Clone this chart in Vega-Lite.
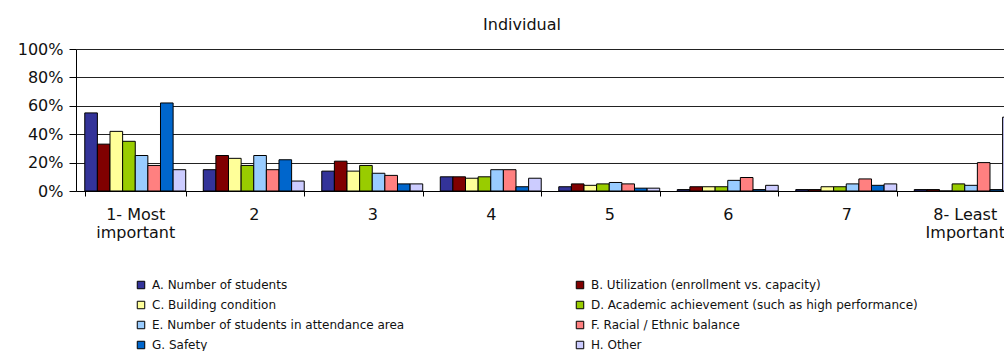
{
  "$schema": "https://vega.github.io/schema/vega-lite/v6.json",
  "width": 928,
  "height": 142,
  "autosize": {"type": "none"},
  "padding": {"left": 76, "top": 49, "right": 0, "bottom": 160},
  "background": "white",
  "title": {
    "text": "Individual",
    "anchor": "middle",
    "dx": -18,
    "offset": 8,
    "font": "DejaVu Sans",
    "fontSize": 16,
    "fontWeight": "normal",
    "color": "#111111"
  },
  "data": {
    "values": [
      {"rank": "1- Most important", "factor": "A. Number of students", "pct": 55},
      {"rank": "1- Most important", "factor": "B. Utilization (enrollment vs. capacity)", "pct": 33},
      {"rank": "1- Most important", "factor": "C. Building condition", "pct": 42},
      {"rank": "1- Most important", "factor": "D. Academic achievement (such as high performance)", "pct": 35},
      {"rank": "1- Most important", "factor": "E. Number of students in attendance area", "pct": 25},
      {"rank": "1- Most important", "factor": "F. Racial / Ethnic balance", "pct": 18},
      {"rank": "1- Most important", "factor": "G. Safety", "pct": 62},
      {"rank": "1- Most important", "factor": "H. Other", "pct": 15},

      {"rank": "2", "factor": "A. Number of students", "pct": 15},
      {"rank": "2", "factor": "B. Utilization (enrollment vs. capacity)", "pct": 25},
      {"rank": "2", "factor": "C. Building condition", "pct": 23},
      {"rank": "2", "factor": "D. Academic achievement (such as high performance)", "pct": 18},
      {"rank": "2", "factor": "E. Number of students in attendance area", "pct": 25},
      {"rank": "2", "factor": "F. Racial / Ethnic balance", "pct": 15},
      {"rank": "2", "factor": "G. Safety", "pct": 22},
      {"rank": "2", "factor": "H. Other", "pct": 7},

      {"rank": "3", "factor": "A. Number of students", "pct": 14},
      {"rank": "3", "factor": "B. Utilization (enrollment vs. capacity)", "pct": 21},
      {"rank": "3", "factor": "C. Building condition", "pct": 14},
      {"rank": "3", "factor": "D. Academic achievement (such as high performance)", "pct": 18},
      {"rank": "3", "factor": "E. Number of students in attendance area", "pct": 12.5},
      {"rank": "3", "factor": "F. Racial / Ethnic balance", "pct": 11},
      {"rank": "3", "factor": "G. Safety", "pct": 5},
      {"rank": "3", "factor": "H. Other", "pct": 5},

      {"rank": "4", "factor": "A. Number of students", "pct": 10},
      {"rank": "4", "factor": "B. Utilization (enrollment vs. capacity)", "pct": 10},
      {"rank": "4", "factor": "C. Building condition", "pct": 9},
      {"rank": "4", "factor": "D. Academic achievement (such as high performance)", "pct": 10},
      {"rank": "4", "factor": "E. Number of students in attendance area", "pct": 15},
      {"rank": "4", "factor": "F. Racial / Ethnic balance", "pct": 15},
      {"rank": "4", "factor": "G. Safety", "pct": 3},
      {"rank": "4", "factor": "H. Other", "pct": 9},

      {"rank": "5", "factor": "A. Number of students", "pct": 3},
      {"rank": "5", "factor": "B. Utilization (enrollment vs. capacity)", "pct": 5},
      {"rank": "5", "factor": "C. Building condition", "pct": 4},
      {"rank": "5", "factor": "D. Academic achievement (such as high performance)", "pct": 5},
      {"rank": "5", "factor": "E. Number of students in attendance area", "pct": 6},
      {"rank": "5", "factor": "F. Racial / Ethnic balance", "pct": 5},
      {"rank": "5", "factor": "G. Safety", "pct": 2},
      {"rank": "5", "factor": "H. Other", "pct": 2},

      {"rank": "6", "factor": "A. Number of students", "pct": 1},
      {"rank": "6", "factor": "B. Utilization (enrollment vs. capacity)", "pct": 3},
      {"rank": "6", "factor": "C. Building condition", "pct": 3},
      {"rank": "6", "factor": "D. Academic achievement (such as high performance)", "pct": 3},
      {"rank": "6", "factor": "E. Number of students in attendance area", "pct": 7.5},
      {"rank": "6", "factor": "F. Racial / Ethnic balance", "pct": 9.5},
      {"rank": "6", "factor": "G. Safety", "pct": 1},
      {"rank": "6", "factor": "H. Other", "pct": 4},

      {"rank": "7", "factor": "A. Number of students", "pct": 1},
      {"rank": "7", "factor": "B. Utilization (enrollment vs. capacity)", "pct": 1},
      {"rank": "7", "factor": "C. Building condition", "pct": 3},
      {"rank": "7", "factor": "D. Academic achievement (such as high performance)", "pct": 3},
      {"rank": "7", "factor": "E. Number of students in attendance area", "pct": 5},
      {"rank": "7", "factor": "F. Racial / Ethnic balance", "pct": 8.5},
      {"rank": "7", "factor": "G. Safety", "pct": 4},
      {"rank": "7", "factor": "H. Other", "pct": 5},

      {"rank": "8- Least Important", "factor": "A. Number of students", "pct": 1},
      {"rank": "8- Least Important", "factor": "B. Utilization (enrollment vs. capacity)", "pct": 1},
      {"rank": "8- Least Important", "factor": "C. Building condition", "pct": 0},
      {"rank": "8- Least Important", "factor": "D. Academic achievement (such as high performance)", "pct": 5},
      {"rank": "8- Least Important", "factor": "E. Number of students in attendance area", "pct": 4},
      {"rank": "8- Least Important", "factor": "F. Racial / Ethnic balance", "pct": 20},
      {"rank": "8- Least Important", "factor": "G. Safety", "pct": 1},
      {"rank": "8- Least Important", "factor": "H. Other", "pct": 52}
    ]
  },
  "mark": {"type": "bar", "stroke": "black", "strokeWidth": 1},
  "encoding": {
    "x": {
      "field": "rank",
      "type": "nominal",
      "sort": null,
      "scale": {"range": [0, 948], "paddingInner": 0.148, "paddingOuter": 0.074},
      "axis": {
        "title": null,
        "labelAngle": 0,
        "tickBand": "extent",
        "tickSize": 5,
        "tickColor": "black",
        "domainColor": "black",
        "grid": false,
        "labelOverlap": false,
        "labelPadding": 10,
        "labelFont": "DejaVu Sans",
        "labelFontSize": 16,
        "labelLineHeight": 18,
        "labelColor": "#111111",
        "labelExpr": "datum.label == '1- Most important' ? ['1- Most', 'important'] : datum.label == '8- Least Important' ? ['8- Least', 'Important'] : datum.label"
      }
    },
    "xOffset": {
      "field": "factor",
      "type": "nominal",
      "sort": null,
      "scale": {"paddingInner": 0, "paddingOuter": 0}
    },
    "y": {
      "field": "pct",
      "type": "quantitative",
      "scale": {"domain": [0, 100], "nice": false},
      "axis": {
        "title": null,
        "values": [0, 20, 40, 60, 80, 100],
        "labelExpr": "datum.value + '%'",
        "grid": true,
        "gridColor": "#222222",
        "gridWidth": 1,
        "domainColor": "black",
        "tickColor": "black",
        "tickSize": 7,
        "labelPadding": 6,
        "labelFont": "DejaVu Sans",
        "labelFontSize": 16,
        "labelColor": "#111111"
      }
    },
    "color": {
      "field": "factor",
      "type": "nominal",
      "sort": null,
      "scale": {
        "domain": [
          "A. Number of students",
          "B. Utilization (enrollment vs. capacity)",
          "C. Building condition",
          "D. Academic achievement (such as high performance)",
          "E. Number of students in attendance area",
          "F. Racial / Ethnic balance",
          "G. Safety",
          "H. Other"
        ],
        "range": ["#333399", "#800000", "#FFFF99", "#99CC00", "#99CCFF", "#FF8080", "#0066CC", "#CCCCFF"]
      },
      "legend": {
        "title": null,
        "orient": "none",
        "direction": "horizontal",
        "legendX": 59,
        "legendY": 230,
        "columns": 2,
        "columnPadding": 169,
        "rowPadding": 8,
        "padding": 0,
        "symbolType": "square",
        "symbolSize": 56,
        "symbolStrokeColor": "black",
        "symbolStrokeWidth": 1,
        "labelFont": "DejaVu Sans",
        "labelFontSize": 12,
        "labelColor": "#111111",
        "labelOffset": 5,
        "labelLimit": 400
      }
    }
  },
  "config": {"view": {"stroke": null}}
}
